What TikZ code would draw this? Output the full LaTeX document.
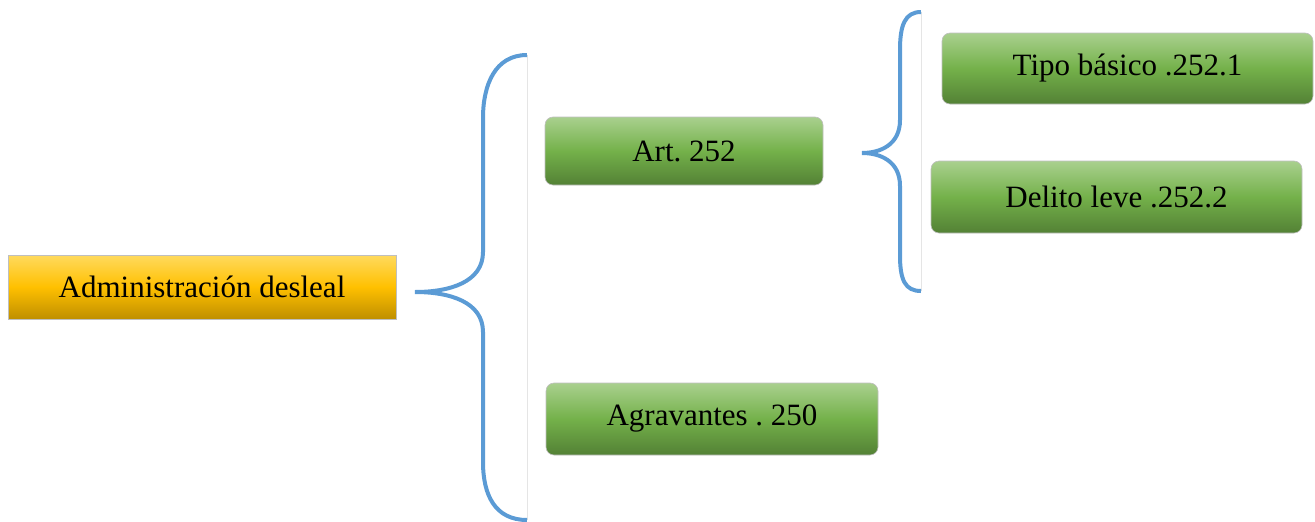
\documentclass[tikz,border=0pt]{standalone}
\usepackage{fontspec}
\setmainfont{Liberation Serif}
\usetikzlibrary{positioning}
\frenchspacing

\definecolor{goldtop}{HTML}{FFDA5E}
\definecolor{goldmid}{HTML}{FFC000}
\definecolor{goldbot}{HTML}{BF8F00}
\definecolor{greentop}{HTML}{A9D08E}
\definecolor{greenmid}{HTML}{74B14A}
\definecolor{greenbot}{HTML}{538135}
\definecolor{braceblue}{HTML}{5B9BD5}

\begin{document}
\begin{tikzpicture}[
  x=1pt, y=-1pt,
  box/.style={draw=black!25, line width=0.6pt, align=center, text=black, inner sep=0pt,
    font=\fontsize{31}{36}\selectfont},
  goldbox/.style={box, top color=goldtop, bottom color=goldbot, middle color=goldmid},
  greenbox/.style={box, rounded corners=8pt, top color=greentop, bottom color=greenbot, middle color=greenmid},
  brace/.style={draw=braceblue, line width=4pt},
  guide/.style={draw=black!10, line width=0.6pt}
]
\useasboundingbox (0,0) rectangle (1315,522);

\node[goldbox, minimum width=388pt, minimum height=64pt] (admin) at (202,287) {Administración desleal};
\node[greenbox, minimum width=278pt, minimum height=68pt] (art) at (684,151) {Art. 252};
\node[greenbox, minimum width=332pt, minimum height=72pt] (agrav) at (712,419) {Agravantes . 250};
\node[greenbox, minimum width=371pt, minimum height=71pt] (tipo) at (1127.5,68.5) {Tipo básico .252.1};
\node[greenbox, minimum width=371pt, minimum height=72pt] (delito) at (1116.5,197) {Delito leve .252.2};

% big brace
\coordinate (bigtip) at (415,292);
\coordinate (bigtop) at (527,55);
\coordinate (bigbot) at (527,520);
\draw[guide] (bigtop) -- (bigbot);
\draw[brace] (bigtop) .. controls (495,55) and (483,85) .. (483,118) -- (483,252)
  .. controls (483,282) and (450,292) .. (bigtip)
  .. controls (450,292) and (483,302) .. (483,332) -- (483,462)
  .. controls (483,495) and (495,520) .. (bigbot);

% small brace
\coordinate (smalltip) at (862,153);
\coordinate (smalltop) at (921,12);
\coordinate (smallbot) at (921,291);
\draw[guide] (smalltop) -- (smallbot);
\draw[brace] (smalltop) .. controls (905,12) and (900,25) .. (900,50) -- (900,120)
  .. controls (900,145) and (880,153) .. (smalltip)
  .. controls (880,153) and (900,161) .. (900,186) -- (900,255)
  .. controls (900,280) and (905,291) .. (smallbot);
\end{tikzpicture}
\end{document}
